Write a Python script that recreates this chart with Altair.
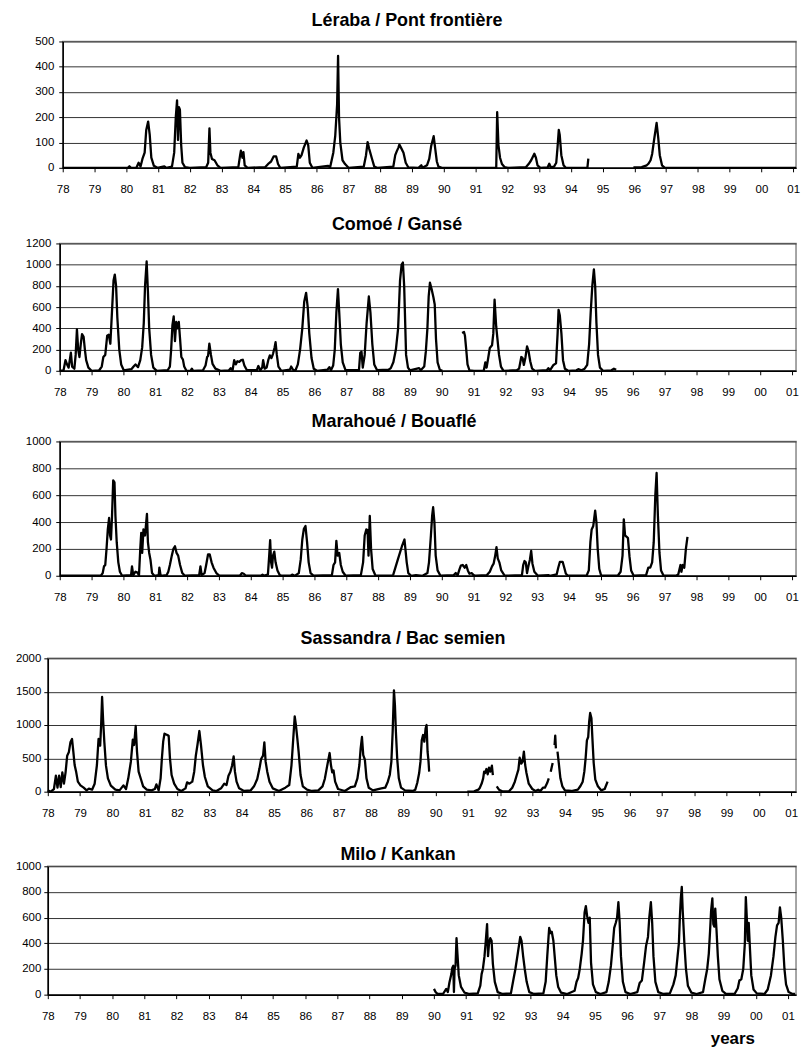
import altair as alt
import pandas as pd

# Time axis: years since 1900 (e.g. 80.69 = 1980.69, 100.5 = 2000.5); discharge in m3/s
# Each station: list of continuous segments, each a list of (year, discharge) readings.

LERABA = [
    [(78.0, 0), (80.05, 0), (80.10, 6), (80.15, 0), (80.32, 0), (80.39, 20), (80.45, 5),
     (80.51, 35), (80.58, 60), (80.63, 150), (80.69, 183), (80.74, 130), (80.79, 40),
     (80.87, 8), (80.98, 0), (81.20, 6), (81.26, 0), (81.44, 5), (81.51, 60), (81.56, 200),
     (81.60, 267), (81.63, 110), (81.66, 240), (81.69, 230), (81.73, 90), (81.77, 20),
     (81.85, 3), (82.0, 0), (82.52, 3), (82.58, 20), (82.62, 156), (82.65, 60), (82.70, 35),
     (82.78, 30), (82.87, 10), (82.97, 0), (83.53, 3), (83.58, 45), (83.61, 68), (83.66, 40),
     (83.69, 62), (83.73, 10), (83.82, 0), (84.38, 3), (84.49, 18), (84.56, 25), (84.64, 45),
     (84.72, 45), (84.78, 15), (84.85, 0), (85.37, 5), (85.42, 55), (85.47, 40), (85.52, 50),
     (85.59, 80), (85.68, 108), (85.73, 90), (85.78, 20), (85.86, 0), (86.35, 8), (86.42, 2),
     (86.52, 60), (86.58, 125), (86.64, 250), (86.67, 443), (86.70, 200), (86.74, 100),
     (86.81, 30), (86.89, 15), (87.0, 0), (87.48, 5), (87.55, 50), (87.60, 102), (87.65, 75),
     (87.74, 35), (87.81, 5), (87.90, 0), (88.41, 5), (88.47, 50), (88.52, 66), (88.57, 80),
     (88.60, 92), (88.67, 75), (88.73, 60), (88.80, 20), (88.88, 2), (89.20, 0), (89.29, 10),
     (89.33, 0), (89.47, 10), (89.54, 35), (89.60, 85), (89.68, 125), (89.73, 75),
     (89.78, 25), (89.83, 5), (89.94, 0), (91.65, 0), (91.68, 220), (91.72, 90), (91.77, 40),
     (91.83, 15), (91.91, 3), (92.02, 0), (92.59, 3), (92.67, 15), (92.75, 30), (92.85, 56),
     (92.90, 40), (92.95, 10), (93.04, 0), (93.27, 2), (93.32, 16), (93.37, 2), (93.47, 5),
     (93.54, 20), (93.58, 80), (93.62, 150), (93.65, 130), (93.70, 50), (93.77, 10),
     (93.84, 0), (94.52, 0), (94.55, 36)],
    [(95.97, 2), (96.23, 3), (96.39, 10), (96.44, 16), (96.51, 30), (96.56, 55), (96.62, 110),
     (96.70, 178), (96.75, 120), (96.80, 50), (96.87, 10), (96.96, 0), (101.09, 0)],
]

COMOE = [
    [(78.0, 0), (78.12, 5), (78.18, 100), (78.23, 60), (78.28, 30), (78.35, 170), (78.39, 40),
     (78.46, 20), (78.50, 150), (78.54, 390), (78.58, 200), (78.62, 130), (78.66, 250),
     (78.70, 345), (78.75, 320), (78.79, 200), (78.83, 100), (78.90, 30), (79.0, 0),
     (79.24, 5), (79.32, 40), (79.37, 130), (79.43, 150), (79.49, 330), (79.54, 340),
     (79.59, 255), (79.64, 550), (79.69, 850), (79.73, 907), (79.77, 800), (79.81, 500),
     (79.87, 200), (79.93, 60), (80.01, 5), (80.25, 15), (80.32, 40), (80.38, 60), (80.46, 35),
     (80.53, 100), (80.59, 220), (80.64, 450), (80.68, 800), (80.73, 1030), (80.77, 750),
     (80.81, 400), (80.87, 150), (80.94, 30), (81.05, 0), (81.39, 5), (81.46, 40), (81.50, 200),
     (81.54, 430), (81.58, 513), (81.62, 280), (81.66, 460), (81.70, 400), (81.74, 460),
     (81.78, 300), (81.82, 130), (81.87, 105), (81.91, 40), (81.98, 0), (82.11, 0), (82.15, 20),
     (82.19, 0), (82.50, 5), (82.58, 50), (82.63, 130), (82.66, 140), (82.70, 255), (82.75, 150),
     (82.80, 65), (82.89, 20), (83.05, 0), (83.31, 3), (83.37, 25), (83.43, 5), (83.48, 100),
     (83.53, 60), (83.58, 90), (83.64, 85), (83.70, 100), (83.75, 104), (83.80, 50), (83.88, 5),
     (84.19, 5), (84.24, 45), (84.30, 5), (84.36, 30), (84.39, 100), (84.44, 20), (84.50, 30),
     (84.55, 100), (84.60, 145), (84.65, 120), (84.70, 160), (84.75, 220), (84.78, 270),
     (84.82, 150), (84.87, 40), (84.96, 0), (85.23, 10), (85.27, 40), (85.33, 10), (85.40, 0),
     (85.48, 60), (85.55, 200), (85.62, 400), (85.68, 650), (85.74, 735), (85.79, 600),
     (85.84, 350), (85.91, 120), (85.98, 20), (86.08, 0), (86.41, 10), (86.47, 35), (86.52, 5),
     (86.59, 50), (86.64, 200), (86.69, 550), (86.74, 770), (86.78, 550), (86.83, 250),
     (86.89, 80), (86.98, 5), (87.40, 5), (87.44, 170), (87.48, 180), (87.52, 30), (87.58, 150),
     (87.64, 450), (87.71, 700), (87.76, 550), (87.82, 250), (87.88, 60), (87.97, 5),
     (88.33, 10), (88.40, 25), (88.48, 80), (88.56, 200), (88.63, 400), (88.69, 850),
     (88.74, 1000), (88.78, 1020), (88.82, 800), (88.88, 150), (88.94, 30), (89.0, 5),
     (89.29, 25), (89.34, 5), (89.45, 40), (89.50, 180), (89.55, 400), (89.59, 700),
     (89.63, 830), (89.69, 760), (89.74, 690), (89.78, 625), (89.82, 300), (89.87, 80),
     (89.94, 10), (90.02, 0)],
    [(90.64, 355), (90.70, 365), (90.73, 330), (90.77, 200), (90.81, 60), (90.87, 5), (91.01, 0),
     (91.32, 0), (91.37, 80), (91.41, 30), (91.46, 120), (91.51, 215), (91.58, 240),
     (91.62, 350), (91.66, 670), (91.71, 420), (91.75, 300), (91.80, 150), (91.86, 40),
     (91.94, 0), (92.36, 5), (92.43, 20), (92.50, 130), (92.54, 120), (92.58, 55), (92.63, 126),
     (92.68, 230), (92.73, 180), (92.78, 90), (92.84, 20), (92.93, 0), (93.30, 5), (93.35, 25),
     (93.40, 5), (93.51, 55), (93.59, 70), (93.64, 350), (93.67, 575), (93.71, 520),
     (93.76, 350), (93.81, 100), (93.87, 20), (93.97, 0), (94.23, 5), (94.29, 15), (94.39, 5),
     (94.49, 20), (94.57, 55), (94.63, 250), (94.68, 550), (94.73, 800), (94.78, 955),
     (94.82, 800), (94.86, 450), (94.91, 150), (94.97, 30), (95.07, 0), (95.33, 5),
     (95.41, 20), (95.48, 10)],
]

MARAHOUE = [
    [(78.0, 0), (79.29, 0), (79.35, 20), (79.39, 70), (79.43, 80), (79.47, 200), (79.51, 345),
     (79.55, 430), (79.58, 300), (79.61, 270), (79.64, 430), (79.68, 710), (79.72, 695),
     (79.75, 445), (79.79, 250), (79.84, 100), (79.89, 30), (79.96, 0), (80.24, 5), (80.27, 70),
     (80.31, 5), (80.38, 30), (80.43, 25), (80.49, 5), (80.53, 200), (80.56, 320), (80.59, 170),
     (80.63, 345), (80.68, 300), (80.71, 380), (80.74, 460), (80.77, 250), (80.81, 170),
     (80.85, 120), (80.90, 20), (80.97, 0), (81.11, 5), (81.13, 60), (81.17, 0), (81.36, 5),
     (81.41, 30), (81.46, 80), (81.52, 150), (81.57, 200), (81.62, 220), (81.67, 170),
     (81.72, 150), (81.78, 80), (81.85, 20), (81.93, 0), (82.38, 5), (82.42, 70), (82.46, 5),
     (82.55, 20), (82.60, 80), (82.66, 160), (82.71, 160), (82.77, 100), (82.83, 60),
     (82.92, 20), (83.02, 0), (83.66, 0), (83.72, 20), (83.78, 15), (83.85, 0), (84.32, 0),
     (84.37, 8), (84.42, 0), (84.54, 10), (84.58, 150), (84.61, 265), (84.64, 100), (84.67, 60),
     (84.70, 150), (84.74, 180), (84.78, 100), (84.84, 40), (84.91, 5), (84.99, 0), (85.25, 0),
     (85.30, 8), (85.39, 0), (85.51, 20), (85.57, 120), (85.62, 270), (85.67, 350),
     (85.72, 370), (85.77, 250), (85.82, 100), (85.88, 20), (85.98, 0), (86.55, 5), (86.60, 80),
     (86.65, 100), (86.69, 260), (86.73, 150), (86.78, 170), (86.83, 80), (86.89, 30),
     (86.98, 0), (87.46, 5), (87.53, 100), (87.58, 300), (87.63, 345), (87.67, 340),
     (87.70, 150), (87.74, 445), (87.78, 200), (87.83, 50), (87.92, 0), (88.44, 0), (88.48, 10),
     (88.62, 120), (88.75, 220), (88.83, 270), (88.90, 100), (88.95, 20), (89.04, 0),
     (89.19, 5), (89.40, 0), (89.55, 20), (89.60, 100), (89.66, 300), (89.70, 450), (89.73, 510),
     (89.77, 400), (89.81, 150), (89.87, 40), (89.96, 0), (90.38, 5), (90.44, 20), (90.50, 5),
     (90.56, 50), (90.60, 75), (90.66, 80), (90.72, 60), (90.77, 80), (90.82, 40), (90.87, 15),
     (90.94, 20), (91.0, 5), (91.08, 0), (91.42, 5), (91.51, 30), (91.58, 70), (91.63, 90),
     (91.68, 150), (91.72, 213), (91.76, 130), (91.81, 100), (91.87, 40), (91.98, 0),
     (92.52, 5), (92.56, 80), (92.60, 110), (92.64, 100), (92.68, 20), (92.73, 80),
     (92.77, 120), (92.81, 185), (92.85, 90), (92.91, 30), (93.02, 0), (93.35, 5), (93.40, 0),
     (93.61, 10), (93.66, 60), (93.71, 103), (93.80, 103), (93.85, 60), (93.90, 15), (93.97, 0),
     (94.55, 0), (94.62, 40), (94.67, 250), (94.71, 345), (94.76, 370), (94.82, 485),
     (94.86, 400), (94.90, 200), (94.95, 50), (95.01, 0), (95.53, 0), (95.62, 30), (95.68, 150),
     (95.72, 420), (95.76, 300), (95.81, 290), (95.85, 280), (95.90, 140), (95.95, 40),
     (96.03, 0), (96.42, 5), (96.49, 60), (96.55, 60), (96.61, 100), (96.66, 250), (96.71, 600),
     (96.75, 765), (96.79, 450), (96.84, 170), (96.89, 40), (96.97, 0), (97.36, 0), (97.43, 10),
     (97.50, 80), (97.53, 30), (97.57, 80), (97.62, 60), (97.67, 200), (97.72, 290)],
]

SASSANDRA = [
    [(78.0, 20), (78.09, 0), (78.19, 40), (78.25, 240), (78.30, 60), (78.35, 240), (78.40, 70),
     (78.45, 290), (78.50, 120), (78.55, 290), (78.60, 540), (78.65, 590), (78.70, 740),
     (78.75, 790), (78.79, 600), (78.83, 400), (78.88, 290), (78.93, 150), (79.01, 95),
     (79.11, 60), (79.20, 20), (79.27, 45), (79.37, 30), (79.45, 120), (79.52, 400),
     (79.57, 790), (79.62, 690), (79.65, 1000), (79.68, 1420), (79.71, 1085), (79.75, 740),
     (79.80, 390), (79.86, 200), (79.95, 90), (80.09, 30), (80.22, 20), (80.34, 95), (80.42, 40),
     (80.49, 200), (80.57, 450), (80.63, 780), (80.67, 700), (80.72, 985), (80.76, 600),
     (80.81, 300), (80.88, 190), (80.95, 80), (81.06, 30), (81.21, 20), (81.31, 40),
     (81.36, 110), (81.43, 20), (81.49, 200), (81.53, 500), (81.57, 750), (81.61, 870),
     (81.65, 860), (81.70, 850), (81.74, 835), (81.78, 500), (81.83, 250), (81.91, 120),
     (82.01, 40), (82.13, 10), (82.26, 50), (82.31, 140), (82.38, 120), (82.47, 150),
     (82.53, 300), (82.58, 540), (82.63, 700), (82.69, 910), (82.74, 700), (82.80, 400),
     (82.86, 220), (82.95, 80), (83.10, 20), (83.22, 10), (83.36, 50), (83.46, 120),
     (83.53, 100), (83.59, 240), (83.65, 300), (83.70, 390), (83.75, 530), (83.79, 300),
     (83.84, 150), (83.92, 50), (84.07, 10), (84.28, 20), (84.38, 80), (84.48, 190),
     (84.55, 350), (84.60, 490), (84.66, 540), (84.70, 740), (84.74, 450), (84.79, 300),
     (84.86, 150), (84.96, 50), (85.15, 10), (85.35, 60), (85.47, 100), (85.54, 400),
     (85.58, 690), (85.64, 1130), (85.68, 985), (85.72, 800), (85.76, 600), (85.82, 250),
     (85.89, 80), (86.02, 30), (86.17, 10), (86.37, 20), (86.50, 80), (86.57, 190),
     (86.63, 350), (86.68, 480), (86.72, 580), (86.76, 400), (86.80, 290), (86.84, 320),
     (86.89, 150), (86.98, 40), (87.19, 10), (87.38, 70), (87.50, 80), (87.58, 200),
     (87.64, 400), (87.68, 650), (87.72, 820), (87.76, 550), (87.81, 480), (87.86, 200),
     (87.93, 60), (88.06, 20), (88.32, 50), (88.44, 60), (88.52, 150), (88.58, 250),
     (88.63, 450), (88.67, 900), (88.71, 1520), (88.74, 1300), (88.77, 900), (88.81, 500),
     (88.86, 200), (88.93, 60), (89.05, 20), (89.29, 10), (89.37, 30), (89.43, 130),
     (89.49, 280), (89.53, 450), (89.57, 770), (89.61, 850), (89.65, 750), (89.69, 950),
     (89.72, 1000), (89.75, 600), (89.78, 450), (89.80, 300)],
    [(90.98, 0), (91.19, 5), (91.32, 30), (91.37, 60), (91.43, 130), (91.47, 200), (91.50, 300),
     (91.53, 280), (91.57, 340), (91.61, 260), (91.65, 360), (91.69, 300), (91.74, 390),
     (91.77, 250)],
    [(91.89, 80), (91.96, 30), (92.06, 5), (92.27, 5), (92.37, 60), (92.45, 150), (92.51, 250),
     (92.56, 330), (92.60, 510), (92.65, 420), (92.69, 450), (92.73, 600), (92.77, 400),
     (92.81, 280), (92.88, 120), (92.99, 40), (93.09, 10), (93.17, 30), (93.24, 10),
     (93.32, 60), (93.38, 60), (93.45, 130), (93.50, 200)],
    [(93.56, 300), (93.62, 430)],
    [(93.68, 700), (93.70, 840), (93.72, 650)],
    [(93.77, 600), (93.81, 430), (93.86, 200), (93.92, 80), (94.0, 20), (94.20, 10),
     (94.40, 30), (94.48, 85), (94.55, 150), (94.60, 300), (94.64, 500), (94.68, 770),
     (94.72, 820), (94.75, 1050), (94.78, 1180), (94.82, 1100), (94.85, 800), (94.89, 430),
     (94.94, 180), (95.02, 80), (95.12, 20), (95.23, 40), (95.32, 150)],
]

MILO = [
    [(90.0, 45), (90.05, 20), (90.12, 5), (90.28, 5), (90.38, 45), (90.43, 20), (90.48, 95),
     (90.54, 160), (90.57, 210), (90.60, 225), (90.62, 20), (90.64, 200), (90.67, 225),
     (90.70, 440), (90.73, 315), (90.77, 150), (90.84, 60), (90.95, 15), (91.10, 5),
     (91.36, 10), (91.44, 70), (91.48, 160), (91.52, 200), (91.57, 300), (91.61, 420),
     (91.65, 550), (91.68, 300), (91.71, 400), (91.75, 440), (91.79, 420), (91.83, 240),
     (91.89, 100), (91.98, 20), (92.13, 5), (92.39, 10), (92.47, 120), (92.53, 200),
     (92.60, 315), (92.65, 400), (92.68, 450), (92.72, 420), (92.77, 300), (92.82, 200),
     (92.88, 100), (92.96, 20), (93.11, 5), (93.40, 10), (93.47, 100), (93.52, 300),
     (93.56, 450), (93.58, 520), (93.62, 480), (93.66, 490), (93.71, 420), (93.75, 300),
     (93.80, 150), (93.86, 60), (93.95, 15), (94.14, 5), (94.37, 30), (94.43, 100),
     (94.48, 130), (94.53, 200), (94.59, 320), (94.63, 420), (94.68, 640), (94.72, 690),
     (94.76, 610), (94.80, 560), (94.84, 600), (94.88, 250), (94.94, 80), (95.03, 20),
     (95.17, 5), (95.36, 20), (95.43, 100), (95.50, 230), (95.56, 400), (95.60, 520),
     (95.65, 560), (95.69, 600), (95.73, 720), (95.77, 560), (95.81, 300), (95.87, 100),
     (95.95, 20), (96.10, 5), (96.32, 20), (96.39, 90), (96.46, 110), (96.53, 250),
     (96.59, 380), (96.65, 450), (96.69, 600), (96.74, 720), (96.78, 560), (96.82, 300),
     (96.88, 100), (96.97, 20), (97.13, 5), (97.33, 10), (97.44, 80), (97.51, 150),
     (97.57, 300), (97.61, 400), (97.64, 600), (97.67, 750), (97.70, 840), (97.73, 650),
     (97.78, 400), (97.83, 200), (97.89, 70), (98.0, 15), (98.16, 5), (98.36, 20),
     (98.43, 120), (98.49, 200), (98.54, 320), (98.58, 500), (98.61, 650), (98.65, 750),
     (98.68, 550), (98.71, 530), (98.74, 670), (98.78, 500), (98.82, 300), (98.87, 120),
     (98.96, 30), (99.08, 5), (99.34, 5), (99.44, 50), (99.49, 110), (99.55, 120),
     (99.61, 200), (99.66, 400), (99.69, 760), (99.72, 600), (99.75, 420), (99.78, 560),
     (99.82, 350), (99.86, 150), (99.93, 40), (100.03, 10), (100.27, 5), (100.37, 40),
     (100.47, 150), (100.55, 300), (100.61, 450), (100.66, 540), (100.71, 560),
     (100.75, 680), (100.79, 600), (100.84, 420), (100.89, 200), (100.94, 80),
     (101.02, 20), (101.14, 5), (101.22, 5)],
]

TITLES = ["Léraba / Pont frontière", "Comoé / Gansé", "Marahoué / Bouaflé",
          "Sassandra / Bac semien", "Milo / Kankan"]
Y_MAX = [500, 1200, 1000, 2000, 1000]
Y_STEP = [100, 200, 200, 500, 200]
YEAR_TICKS = list(range(78, 102))

FONT = "Liberation Sans"


def frame(segments):
    rows = []
    for i, seg in enumerate(segments):
        for t, q in seg:
            rows.append({"t": t, "q": q, "seg": i})
    return pd.DataFrame(rows)


def panel(idx, segs, left, w, h, xmax, yext, ylabpad, xext, title_cx, title_y, last=False):
    df = frame(segs)
    xaxis_kw = dict(values=YEAR_TICKS,
                    labelExpr="pad(toString(datum.value % 100), 2, '0', 'left')",
                    tickSize=4, labelPadding=12, grid=False,
                    minExtent=xext, maxExtent=xext, labelFlush=False)
    if last:
        xaxis_kw.update(titleFontSize=17, titleFontWeight="bold", titleFont=FONT,
                        titleX=735 - left, titleY=49, titleBaseline="alphabetic",
                        titleAlign="center", titleColor="black")
    xaxis = alt.Axis(**xaxis_kw)
    yaxis = alt.Axis(values=list(range(0, Y_MAX[idx] + 1, Y_STEP[idx])), format="d",
                     tickSize=4, labelPadding=ylabpad, grid=True,
                     minExtent=yext, maxExtent=yext)
    x = alt.X("t:Q", scale=alt.Scale(domain=[78, xmax], nice=False, zero=False),
              axis=xaxis, title="years" if last else None)
    y = alt.Y("q:Q", scale=alt.Scale(domain=[0, Y_MAX[idx]], nice=False),
              axis=yaxis, title=None)
    line = alt.Chart(df).mark_line(color="black", strokeWidth=2.3, strokeJoin="round").encode(
        x=x, y=y, detail="seg:N"
    )
    ttl = alt.Chart(pd.DataFrame({"label": [TITLES[idx]]})).mark_text(
        fontSize=18, fontWeight="bold", font=FONT, baseline="alphabetic", align="center",
        color="black"
    ).encode(x=alt.value(title_cx - left), y=alt.value(title_y), text="label:N")
    body = alt.layer(line, ttl).properties(width=w, height=h)
    # empty spacer so each panel's plot area starts at its own left position
    spacer = alt.Chart(pd.DataFrame({"v": [0]})).mark_point(opacity=0, size=1).properties(
        width=max(1, left - 13 - yext), height=h, view=alt.ViewBackground(strokeOpacity=0)
    )
    return alt.hconcat(spacer, body, spacing=0)


p1 = panel(0, LERABA, 62, 737, 127, 101.09, 35, 5, 36, 408, -16)
p2 = panel(1, COMOE, 59, 740, 128, 101.13, 35, 5, 29.5, 398, -14)
p3 = panel(2, MARAHOUE, 59, 740, 135, 101.13, 35, 5, 43, 395, -14.5)
p4 = panel(3, SASSANDRA, 47, 752, 134, 101.15, 33, 3, 41.5, 404, -14)
p5 = panel(4, MILO, 47, 752, 129, 101.25, 33, 3, 48, 399, -6.5, last=True)

chart = alt.vconcat(p1, p2, p3, p4, p5, spacing=10).configure_view(
    stroke="#888", strokeWidth=1.5
).configure_axis(
    domainColor="black", domainWidth=1.5, tickColor="black", tickWidth=1,
    gridColor="#333", gridWidth=1, labelFont=FONT, labelFontSize=11.5, labelColor="black"
).properties(padding={"left": 5, "top": 0, "right": 0, "bottom": 0})

chart.save("out.html", embed_options={"renderer": "svg", "actions": False})
